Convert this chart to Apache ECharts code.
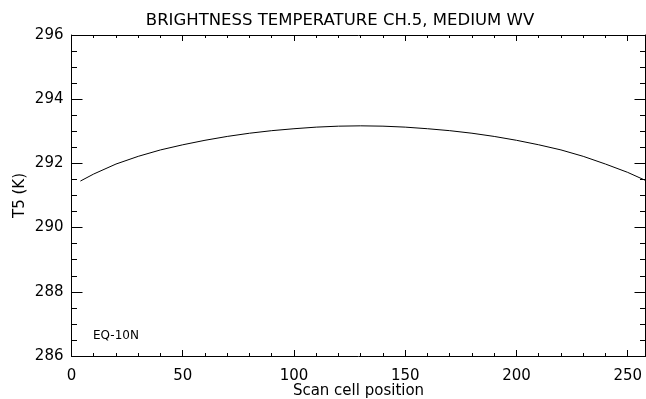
<!DOCTYPE html>
<html><head><meta charset="utf-8">
<script src="https://cdn.jsdelivr.net/npm/echarts@6/dist/echarts.min.js"></script>
<style>html,body{margin:0;padding:0;background:#fff}#c{width:646px;height:399px}</style>
</head><body><div id="c"></div>
<script>
const titleText = "BRIGHTNESS TEMPERATURE CH.5, MEDIUM WV";
const xName = "Scan cell position";
const yName = "T5 (K)";
const noteText = "EQ-10N";
const scanPos = [4,10,20,30,40,50,60,70,80,90,100,110,120,130,140,150,160,170,180,190,200,210,220,230,240,250,258];
const t5 = [291.45,291.67,291.98,292.22,292.42,292.58,292.72,292.84,292.94,293.02,293.08,293.13,293.16,293.17,293.16,293.13,293.08,293.02,292.94,292.84,292.72,292.58,292.42,292.22,291.98,291.72,291.47];

const font = "DejaVu Sans";
const chart = echarts.init(document.getElementById('c'));
const lineStyle = {color:'#000', width:1};
function xa(grid, pos, interval, len, labels){
  const a = {type:'value', gridIndex:grid, min:0, max:258, interval:interval, position:pos, offset:0,
    axisLine:{show:grid===0, onZero:false, lineStyle}, splitLine:{show:false},
    axisTick:{show:true, inside:true, length:len, lineStyle},
    axisLabel:{show:false}};
  if (labels){
    a.axisLabel = {show:true, fontFamily:font, fontSize:15, color:'#000', margin:13, showMaxLabel:false};
    a.name = xName; a.nameLocation = 'middle'; a.nameGap = 28; a.nameMoveOverlap = false;
    a.nameTextStyle = {fontFamily:font, fontSize:15, color:'#000'};
  }
  return a;
}
function ya(grid, pos, interval, len, labels){
  const a = {type:'value', gridIndex:grid, min:286, max:296, interval:interval, position:pos, offset:0,
    axisLine:{show:grid===0, onZero:false, lineStyle}, splitLine:{show:false},
    axisTick:{show:true, inside:true, length:len, lineStyle},
    axisLabel:{show:false}};
  if (labels){
    a.axisLabel = {show:true, fontFamily:font, fontSize:15, color:'#000', margin:8};
    a.name = yName; a.nameLocation = 'middle'; a.nameGap = 44; a.nameMoveOverlap = false;
    a.nameTextStyle = {fontFamily:font, fontSize:15, color:'#000'};
  }
  return a;
}
const rect = {left:71.5, right:0.5, top:35, bottom:43, containLabel:false, outerBoundsMode:'none'};
chart.setOption({
  animation:false,
  title:{text:titleText, left:335, top:7, textAlign:'center',
    textStyle:{fontFamily:font, fontSize:16.5, fontWeight:'normal', color:'#000'}},
  grid:[Object.assign({}, rect), Object.assign({}, rect)],
  xAxis:[xa(0,'bottom',50,6,true), xa(0,'top',50,6,false), xa(1,'bottom',10,3,false), xa(1,'top',10,3,false)],
  yAxis:[ya(0,'left',2,11,true), ya(0,'right',2,11,false), ya(1,'left',0.5,5.5,false), ya(1,'right',0.5,5.5,false)],
  graphic:[{type:'text', left:93, top:330,
    style:{text:noteText, fontFamily:font, fontSize:12, fill:'#000'}}],
  series:[{type:'line', xAxisIndex:0, yAxisIndex:0, data:scanPos.map((x,i)=>[x,t5[i]]), showSymbol:false,
    smooth:false, lineStyle:{color:'#000', width:1}}]
});
</script></body></html>
